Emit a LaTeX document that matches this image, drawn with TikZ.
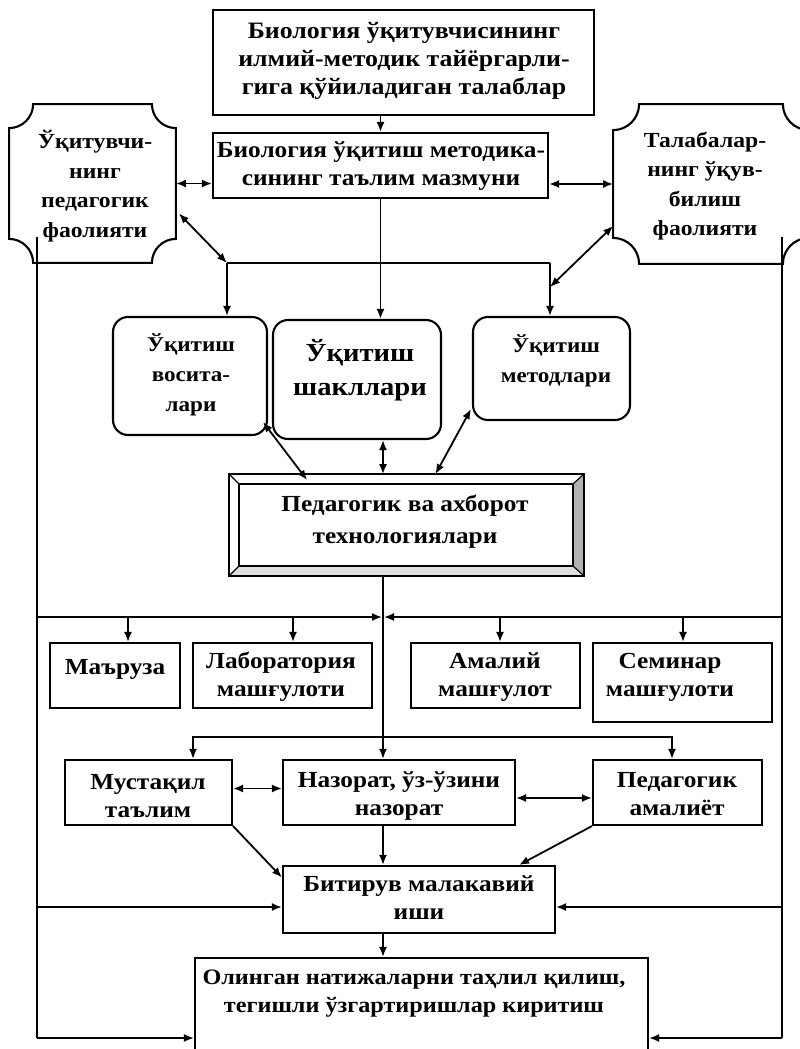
\documentclass[tikz,border=0pt]{standalone}
\usepackage{fontspec}
\setmainfont{Liberation Serif}[FakeStretch=1.1]
\usetikzlibrary{arrows.meta,calc}
\newcommand\plaque[2]{%
  \draw[boxline] let \p1=(#1.north west), \p2=(#1.south east) in
    (\x1+#2,\y1) -- (\x2-#2,\y1)
    .. controls (\x2-#2,\y1-0.552*#2) and (\x2-0.552*#2,\y1-#2) .. (\x2,\y1-#2)
    -- (\x2,\y2+#2)
    .. controls (\x2-0.552*#2,\y2+#2) and (\x2-#2,\y2+0.552*#2) .. (\x2-#2,\y2)
    -- (\x1+#2,\y2)
    .. controls (\x1+#2,\y2+0.552*#2) and (\x1+0.552*#2,\y2+#2) .. (\x1,\y2+#2)
    -- (\x1,\y1-#2)
    .. controls (\x1+0.552*#2,\y1-#2) and (\x1+#2,\y1-0.552*#2) .. cycle;}
\begin{document}
\begin{tikzpicture}[x=1pt,y=-1pt, line width=1.8pt,
  >={Latex[length=10pt,width=8pt]},
  boxline/.style={line width=2.1pt},
  box/.style={draw, boxline, rectangle, inner sep=0pt},
  rbox/.style={draw, boxline, rectangle, rounded corners=15pt, inner sep=0pt},
  hole/.style={rectangle, inner sep=0pt},
  txt/.style={align=center, font=\fontsize{23}{28}\selectfont\bfseries, inner sep=0pt},
  bigtxt/.style={align=center, font=\fontsize{26}{34}\selectfont\bfseries, inner sep=0pt},
  ]
\useasboundingbox (0,0) rectangle (800,1049);

% boxes
\node[box, minimum width=381pt, minimum height=105pt] (top) at (403.5,62.5) {};
\node[txt, font=\fontsize{23.5}{28}\selectfont\bfseries] (top-t) at (404,61) {Биология ўқитувчисининг\\илмий-методик тайёргарли-\\гига қўйиладиган талаблар};

\node[box, minimum width=335pt, minimum height=65pt] (mazmun) at (380.5,165.5) {};
\node[txt] (mazmun-t) at (381,166) {Биология ўқитиш методика-\\сининг таълим мазмуни};

\node[hole, minimum width=165pt, minimum height=157pt] (teacher) at (92.5,183.5) {};
\plaque{teacher}{24pt}
\node[txt, font=\fontsize{21.5}{29.5}\selectfont\bfseries] (teacher-t) at (95,186) {Ўқитувчи-\\нинг\\педагогик\\фаолияти};

\node[hole, minimum width=194pt, minimum height=158pt] (student) at (711,184) {};
\plaque{student}{26pt}
\node[txt, font=\fontsize{21.5}{29.5}\selectfont\bfseries] (student-t) at (705,186) {Талабалар-\\нинг ўқув-\\билиш\\фаолияти};

\node[rbox, minimum width=154pt, minimum height=118pt] (vosita) at (190,376) {};
\node[txt, font=\fontsize{21}{30}\selectfont\bfseries] (vosita-t) at (191,375) {Ўқитиш\\восита-\\лари};

\node[rbox, minimum width=168pt, minimum height=119pt] (shakl) at (357,379.5) {};
\node[bigtxt] (shakl-t) at (360,370) {Ўқитиш\\шакллари};

\node[rbox, minimum width=157pt, minimum height=103pt] (metod) at (551.5,368.5) {};
\node[txt, font=\fontsize{21}{30}\selectfont\bfseries] (metod-t) at (556,361) {Ўқитиш\\методлари};

% beveled frame
\node[hole, minimum width=353pt, minimum height=100pt] (pit) at (406.5,525) {};
\fill[gray!60] (pit.north east) -- (pit.south east) -- ($(pit.south east)+(-11,-10)$) -- ($(pit.north east)+(-11,10)$) -- cycle;
\fill[gray!25] (pit.south west) -- (pit.south east) -- ($(pit.south east)+(-11,-10)$) -- ($(pit.south west)+(10,-10)$) -- cycle;
\draw[boxline] (pit.north west) rectangle (pit.south east);
\draw[line width=1.4pt] ($(pit.north west)+(10,10)$) rectangle ($(pit.south east)+(-11,-10)$);
\draw[line width=1.1pt] (pit.north west) -- ($(pit.north west)+(10,10)$)
  (pit.north east) -- ($(pit.north east)+(-11,10)$)
  (pit.south west) -- ($(pit.south west)+(10,-10)$)
  (pit.south east) -- ($(pit.south east)+(-11,-10)$);
\node[txt, font=\fontsize{23}{32}\selectfont\bfseries] (pit-t) at (405,522) {Педагогик ва ахборот\\технологиялари};

\node[box, minimum width=130pt, minimum height=65pt] (maruza) at (115,675.5) {};
\node[txt] (maruza-t) at (115,669) {Маъруза};
\node[box, minimum width=179pt, minimum height=65pt] (lab) at (282.5,675.5) {};
\node[txt] (lab-t) at (281,677) {Лаборатория\\машғулоти};
\node[box, minimum width=169pt, minimum height=65pt] (amaliy) at (495.5,675.5) {};
\node[txt] (amaliy-t) at (495,677) {Амалий\\машғулот};
\node[box, minimum width=179pt, minimum height=79pt] (seminar) at (682.5,682.5) {};
\node[txt] (seminar-t) at (670,677) {Семинар\\машғулоти};

\node[box, minimum width=167pt, minimum height=65pt] (mustaqil) at (148.5,792.5) {};
\node[txt] (mustaqil-t) at (148,796) {Мустақил\\таълим};
\node[box, minimum width=232pt, minimum height=65pt] (nazorat) at (399,792.5) {};
\node[txt] (nazorat-t) at (399,796) {Назорат, ўз-ўзини\\назорат};
\node[box, minimum width=169pt, minimum height=65pt] (pedam) at (677.5,792.5) {};
\node[txt] (pedam-t) at (677,794) {Педагогик\\амалиёт};

\node[box, minimum width=272pt, minimum height=67pt] (bitiruv) at (419,899.5) {};
\node[txt] (bitiruv-t) at (419,898) {Битирув малакавий\\иши};

\node[box, minimum width=453pt, minimum height=102pt] (olingan) at (421.5,1009) {};
\node[txt, font=\fontsize{22}{28}\selectfont\bfseries] (olingan-t) at (414,994) {Олинган натижаларни таҳлил қилиш,\\тегишли ўзгартиришлар киритиш};

% coordinates
\coordinate (ja) at (227,263);
\coordinate (jb) at (550,263);
\coordinate (jc) at (383,617);
\coordinate (jd) at (383,737);
\coordinate (lt) at (37,237);
\coordinate (rt) at (782,237);
\coordinate (lb) at (37,1038);
\coordinate (rb) at (782,1038);
\coordinate (lm) at (37,907);
\coordinate (rm) at (782,907);
\coordinate (am) at ($(maruza.north)+(13,0)$);
\coordinate (al) at ($(lab.north)+(10.5,0)$);
\coordinate (aa) at ($(amaliy.north)+(4.5,0)$);
\coordinate (as) at ($(seminar.north)+(0.5,0)$);
\coordinate (mm) at ($(mustaqil.north)+(44.5,0)$);
\coordinate (pm) at ($(pedam.north)+(-5.5,0)$);
\coordinate (ms) at ($(mustaqil.east)+(0,-4)$);
\coordinate (ns) at ($(nazorat.east)+(0,5.5)$);

% connectors
\draw[->] (top.south -| mazmun.north) -- (mazmun.north);
\draw[<->] (teacher.east) -- (teacher.east -| mazmun.west);
\draw[<->] (mazmun.east |- student.west) -- (student.west);
\draw[<->] ($(teacher.east)+(3,30)$) -- (ja);
\draw[<->] ($(student.west)+(0,42)$) -- ($(jb)+(0,24)$);
\draw (ja) -- (jb);
\draw[->] (ja) -- (ja |- vosita.north);
\draw[->] (mazmun.south) -- (mazmun.south |- shakl.north);
\draw[->] (jb) -- (jb |- metod.north);

\draw[<->] ($(vosita.south east)+(-5,-14)$) -- ($(pit.north west)+(78,6)$);
\draw[<->] (shakl.south -| jc) -- (pit.north -| jc);
\draw[<->] ($(metod.south west)+(-1,-12)$) -- ($(pit.north)+(29,0)$);

\draw[->] (pit.south -| jc) -- (nazorat.north -| jc);
\draw (lt) -- (lb);
\draw (rt) -- (rb);
\draw[->] (lt |- jc) -- ($(jc)+(-1,0)$);
\draw[->] (rt |- jc) -- ($(jc)+(1,0)$);
\draw[->] (am |- jc) -- (am);
\draw[->] (al |- jc) -- (al);
\draw[->] (aa |- jc) -- (aa);
\draw[->] (as |- jc) -- (as);

\draw[->] (jd) -| (mm);
\draw[->] (jd) -| (pm);
\draw[<->] (ms) -- (ms -| nazorat.west);
\draw[<->] (ns) -- (ns -| pedam.west);

\draw[->] (mustaqil.south east) -- ($(bitiruv.west)+(0,-22)$);
\draw[->] (nazorat.south -| jc) -- (bitiruv.north -| jc);
\draw[->] (pedam.south west) -- ($(bitiruv.north east)+(-37,0)$);
\draw[->] (lm) -- (lm -| bitiruv.west);
\draw[->] (rm) -- (rm -| bitiruv.east);
\draw[->] (bitiruv.south -| jc) -- (olingan.north -| jc);
\draw[->] (lb) -- (lb -| olingan.west);
\draw[->] (rb) -- (rb -| olingan.east);
\end{tikzpicture}
\end{document}
